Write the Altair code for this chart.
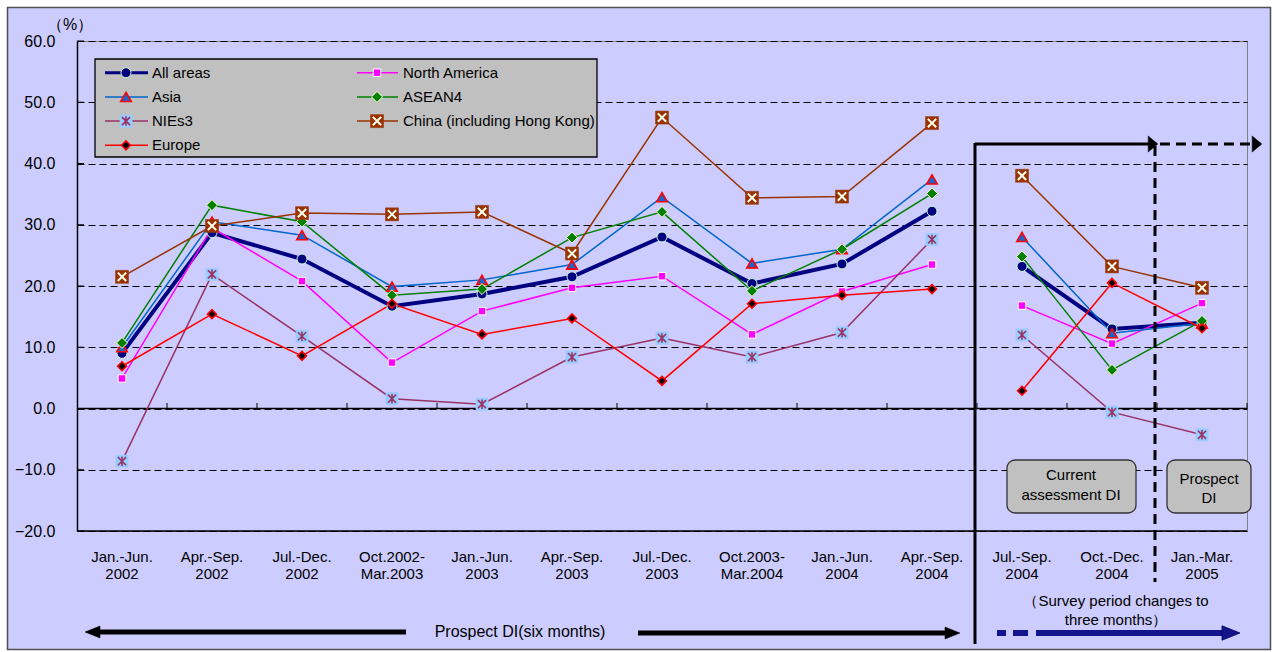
import altair as alt
import pandas as pd

# ---------------- data ----------------
cat_top = ["Jan.-Jun.", "Apr.-Sep.", "Jul.-Dec.", "Oct.2002-", "Jan.-Jun.", "Apr.-Sep.",
           "Jul.-Dec.", "Oct.2003-", "Jan.-Jun.", "Apr.-Sep.", "Jul.-Sep.", "Oct.-Dec.", "Jan.-Mar."]
cat_bottom = ["2002", "2002", "2002", "Mar.2003", "2003", "2003",
              "2003", "Mar.2004", "2004", "2004", "2004", "2004", "2005"]

series_names = ["All areas", "North America", "Asia", "ASEAN4", "NIEs3",
                "China (including Hong Kong)", "Europe"]

all_areas = [9.0, 28.7, 24.4, 16.7, 18.7, 21.5, 28.0, 20.4, 23.6, 32.2, 23.2, 13.0, 14.0]
north_america = [4.9, 29.5, 20.8, 7.5, 15.9, 19.7, 21.6, 12.1, 19.1, 23.5, 16.8, 10.6, 17.2]
asia = [10.0, 30.5, 28.3, 19.9, 21.0, 23.5, 34.5, 23.7, 26.0, 37.4, 28.0, 12.3, 13.9]
asean4 = [10.7, 33.2, 30.5, 18.5, 19.5, 27.9, 32.1, 19.2, 26.0, 35.1, 24.8, 6.3, 14.3]
nies3 = [-8.6, 21.9, 11.8, 1.6, 0.7, 8.4, 11.5, 8.4, 12.4, 27.6, 12.0, -0.6, -4.3]
china = [21.5, 29.8, 31.9, 31.7, 32.1, 25.3, 47.5, 34.4, 34.6, 46.6, 38.0, 23.2, 19.7]
europe = [6.9, 15.4, 8.6, 17.1, 12.1, 14.7, 4.5, 17.1, 18.5, 19.5, 2.9, 20.5, 13.1]

series_values = [all_areas, north_america, asia, asean4, nies3, china, europe]
y_ticks = [-20, -10, 0, 10, 20, 30, 40, 50, 60]
n_six_month = 10  # first 10 periods are six-month, then three-month

# ---------------- layout helpers ----------------
X0, Y0 = 77, 41
W, H = 1170, 490
FONT = "Liberation Sans"


def px(x):
    return x - X0


def py(y):
    return y - Y0


rows = []
for name, vals in zip(series_names, series_values):
    for i, v in enumerate(vals):
        rows.append({"series": name, "idx": i, "v": v, "seg": 0 if i < n_six_month else 1})
df = pd.DataFrame(rows)

cat_df = pd.DataFrame({"idx": list(range(len(cat_top))),
                       "label": [a + "\n" + b for a, b in zip(cat_top, cat_bottom)]})
bound_df = pd.DataFrame({"idx": [i + 0.5 for i in range(len(cat_top))]})
ytick_df = pd.DataFrame({"v": y_ticks})
one = pd.DataFrame({"k": [0]})

xs = alt.Scale(domain=[-0.5, len(cat_top) - 0.5], nice=False, zero=False)
ys = alt.Scale(domain=[-20, 60], nice=False, zero=False)
yaxis = alt.Axis(values=y_ticks, format=".1f", labelFont=FONT, labelFontSize=16,
                 labelColor="black", labelPadding=22, ticks=False, tickSize=0,
                 domain=True, domainColor="black", domainWidth=1.5,
                 grid=True, gridColor="black", gridDash=[7, 4], gridWidth=1, gridOpacity=1,
                 title=None)
X = alt.X("idx:Q", scale=xs, axis=None)
Y = alt.Y("v:Q", scale=ys, axis=yaxis)

layers = []

# y ticks (inside), zero line, bottom line, x ticks on zero line
layers.append(alt.Chart(ytick_df).mark_rule(color="black", strokeWidth=1).encode(
    y=Y, x=alt.value(0), x2=alt.value(7)))
layers.append(alt.Chart(pd.DataFrame({"v": [0, -20]})).mark_rule(color="black", strokeWidth=1.3).encode(
    y=Y, x=alt.value(0), x2=alt.value(W)))
layers.append(alt.Chart(bound_df).mark_rule(color="black", strokeWidth=1).encode(
    x=X, y=alt.value(py(409)), y2=alt.value(py(403))))

# series styles
styles = {
    "All areas": dict(color="#000080", width=4,
                      marks=[("circle", 100, "#000080", "#CCFFCC", 1, True)]),
    "North America": dict(color="#FF00FF", width=1.5,
                          marks=[("square", 56, "#FF00FF", "#FFFFFF", 1, True)]),
    "Asia": dict(color="#0066CC", width=1.5,
                 marks=[("triangle-up", 110, "#1E64C8", "#FF0000", 1.6, True)]),
    "ASEAN4": dict(color="#008000", width=1.5,
                   marks=[("diamond", 120, "#008000", "#FFFFCC", 1, True)]),
    "NIEs3": dict(color="#993366", width=1.5,
                  marks=[("square", 150, "#99CCFF", "#99CCFF", 0.5, True),
                         ("M0,-1L0,1M-0.85,-0.85L0.85,0.85M-0.85,0.85L0.85,-0.85", 90, None,
                          "#993366", 1.6, False)]),
    "China (including Hong Kong)": dict(color="#993300", width=1.5,
                                        marks=[("square", 169, "#993300", "#993300", 0.5, True),
                                               ("M-1,-1L1,1M-1,1L1,-1", 70, None, "#FFFFF0", 2, False)]),
    "Europe": dict(color="#FF0000", width=1.5,
                   marks=[("diamond", 80, "#000000", "#FF0000", 1.6, True)]),
}


def point_mark(shape, size, fill, stroke, sw, filled):
    kw = dict(shape=shape, size=size, stroke=stroke, strokeWidth=sw, opacity=1)
    if filled:
        kw.update(filled=True, fill=fill, fillOpacity=1)
    else:
        kw.update(filled=False)
    return kw


# lines
for name in series_names:
    st = styles[name]
    layers.append(alt.Chart(df).transform_filter(alt.datum.series == name)
                  .mark_line(color=st["color"], strokeWidth=st["width"])
                  .encode(x=X, y=Y, detail="seg:N", order="idx:Q"))
# markers
for name in series_names:
    st = styles[name]
    for m in st["marks"]:
        layers.append(alt.Chart(df).transform_filter(alt.datum.series == name)
                      .mark_point(**point_mark(*m)).encode(x=X, y=Y))


# ---------------- annotation helpers ----------------
def hrule(x1, x2, y, color="black", width=1.0, dash=None):
    kw = dict(color=color, strokeWidth=width)
    if dash:
        kw["strokeDash"] = dash
    return alt.Chart(one).mark_rule(**kw).encode(
        x=alt.value(px(x1)), x2=alt.value(px(x2)), y=alt.value(py(y)))


def vrule(x, y1, y2, color="black", width=1.0, dash=None):
    kw = dict(color=color, strokeWidth=width)
    if dash:
        kw["strokeDash"] = dash
    return alt.Chart(one).mark_rule(**kw).encode(
        x=alt.value(px(x)), y=alt.value(py(y1)), y2=alt.value(py(y2)))


def rect(x1, y1, x2, y2, fill, stroke=None, sw=1, radius=0):
    kw = dict(fill=fill, cornerRadius=radius)
    if stroke:
        kw.update(stroke=stroke, strokeWidth=sw)
    return alt.Chart(one).mark_rect(**kw).encode(
        x=alt.value(px(x1)), x2=alt.value(px(x2)), y=alt.value(py(y1)), y2=alt.value(py(y2)))


def text(x, y, s, size=15, align="center", lh=None, color="black"):
    # y is the centre of the first line
    kw = dict(font=FONT, fontSize=size, align=align, baseline="middle", color=color)
    if lh:
        kw.update(lineBreak="\n", lineHeight=lh)
    return alt.Chart(one).mark_text(**kw).encode(
        x=alt.value(px(x)), y=alt.value(py(y)), text=alt.value(s))


def sym(x, y, shape, size, fill, stroke, sw, filled):
    return alt.Chart(one).mark_point(**point_mark(shape, size, fill, stroke, sw, filled)).encode(
        x=alt.value(px(x)), y=alt.value(py(y)))


# ---------------- legend ----------------
layers.append(rect(95, 59, 597, 157, "#C0C0C0", "#000000", 1.3))
for k, name in enumerate(series_names):
    col, row = k % 2, k // 2
    ly = 72.7 + row * 24.2
    lx1, lx2, mx, tx = [(105, 148, 126, 152), (357, 398, 377, 403)][col]
    st = styles[name]
    layers.append(hrule(lx1, lx2, ly, st["color"], 3 if st["width"] > 2 else st["width"]))
    for m in st["marks"]:
        layers.append(sym(mx, ly, *m))
    layers.append(text(tx, ly, name, 15, "left"))

# ---------------- annotations ----------------
layers.append(text(70, 25, "（%）", 16))

# section separators and arrows
layers.append(vrule(975, 143, 644, "black", 3))
layers.append(hrule(975, 1150, 144, "black", 3))
layers.append(sym(1153, 144, "M-0.6,-1L0.6,0L-0.6,1Z", 256, "black", "black", 0.5, True))
layers.append(hrule(1160, 1252, 144, "black", 3, [10, 6]))
layers.append(sym(1257, 144, "M-0.6,-1L0.6,0L-0.6,1Z", 256, "black", "black", 0.5, True))
layers.append(vrule(1155, 146, 582, "black", 3, [10, 6]))

# boxes
layers.append(rect(1007, 460, 1136, 513, "#C0C0C0", "#333333", 1.3, 8))
layers.append(text(1071, 475, "Current\nassessment DI", 15, lh=20))
layers.append(rect(1167, 460, 1251, 513, "#C0C0C0", "#333333", 1.3, 8))
layers.append(text(1209, 479, "Prospect\nDI", 15, lh=19))

# x labels
layers.append(alt.Chart(cat_df).mark_text(font=FONT, fontSize=15, align="center", baseline="middle",
                                          lineBreak="\n", lineHeight=17, color="black")
              .encode(x=X, y=alt.value(py(557)), text="label:N"))

# bottom arrows
layers.append(hrule(97, 406, 632, "black", 5))
layers.append(sym(92.5, 632, "M1,-0.8L-1,0L1,0.8Z", 225, "black", "black", 0.5, True))
layers.append(text(520, 632, "Prospect DI(six months)", 16))
layers.append(hrule(638, 950, 633, "black", 5))
layers.append(sym(952.5, 633, "M-1,-0.8L1,0L-1,0.8Z", 225, "black", "black", 0.5, True))

layers.append(text(1116, 601, "（Survey period changes to\nthree months）", 15, lh=19))
BLUE = "#14148C"
layers.append(hrule(997, 1006, 633, BLUE, 6))
layers.append(hrule(1013, 1028, 633, BLUE, 6))
layers.append(hrule(1036, 1224, 633, BLUE, 6))
layers.append(sym(1231, 633, "M-1,-0.8L1,0L-1,0.8Z", 324, BLUE, "#000066", 0.8, True))

# outer white margin and frame
layers.append(rect(0, 0, 1272, 7, "#FFFFFF"))
layers.append(rect(0, 0, 7, 652, "#FFFFFF"))
layers.append(rect(1271, 0, 1272, 652, "#FFFFFF"))
layers.append(rect(0, 650, 1272, 652, "#FFFFFF"))
layers.append(alt.Chart(one).mark_rect(filled=False, stroke="#505050", strokeWidth=1.5).encode(
    x=alt.value(px(7.5)), x2=alt.value(px(1270.5)), y=alt.value(py(7.5)), y2=alt.value(py(649.5))))

chart = alt.layer(*layers).properties(
    width=W, height=H,
    background="#CCCCFF",
    autosize=alt.AutoSizeParams(type="none"),
    padding={"left": X0, "top": Y0, "right": 1272 - X0 - W, "bottom": 652 - Y0 - H},
).configure_view(fill="#CCCCFF", stroke="#808080", strokeWidth=1)

chart.save("out.html", embed_options={"renderer": "svg", "actions": False})
